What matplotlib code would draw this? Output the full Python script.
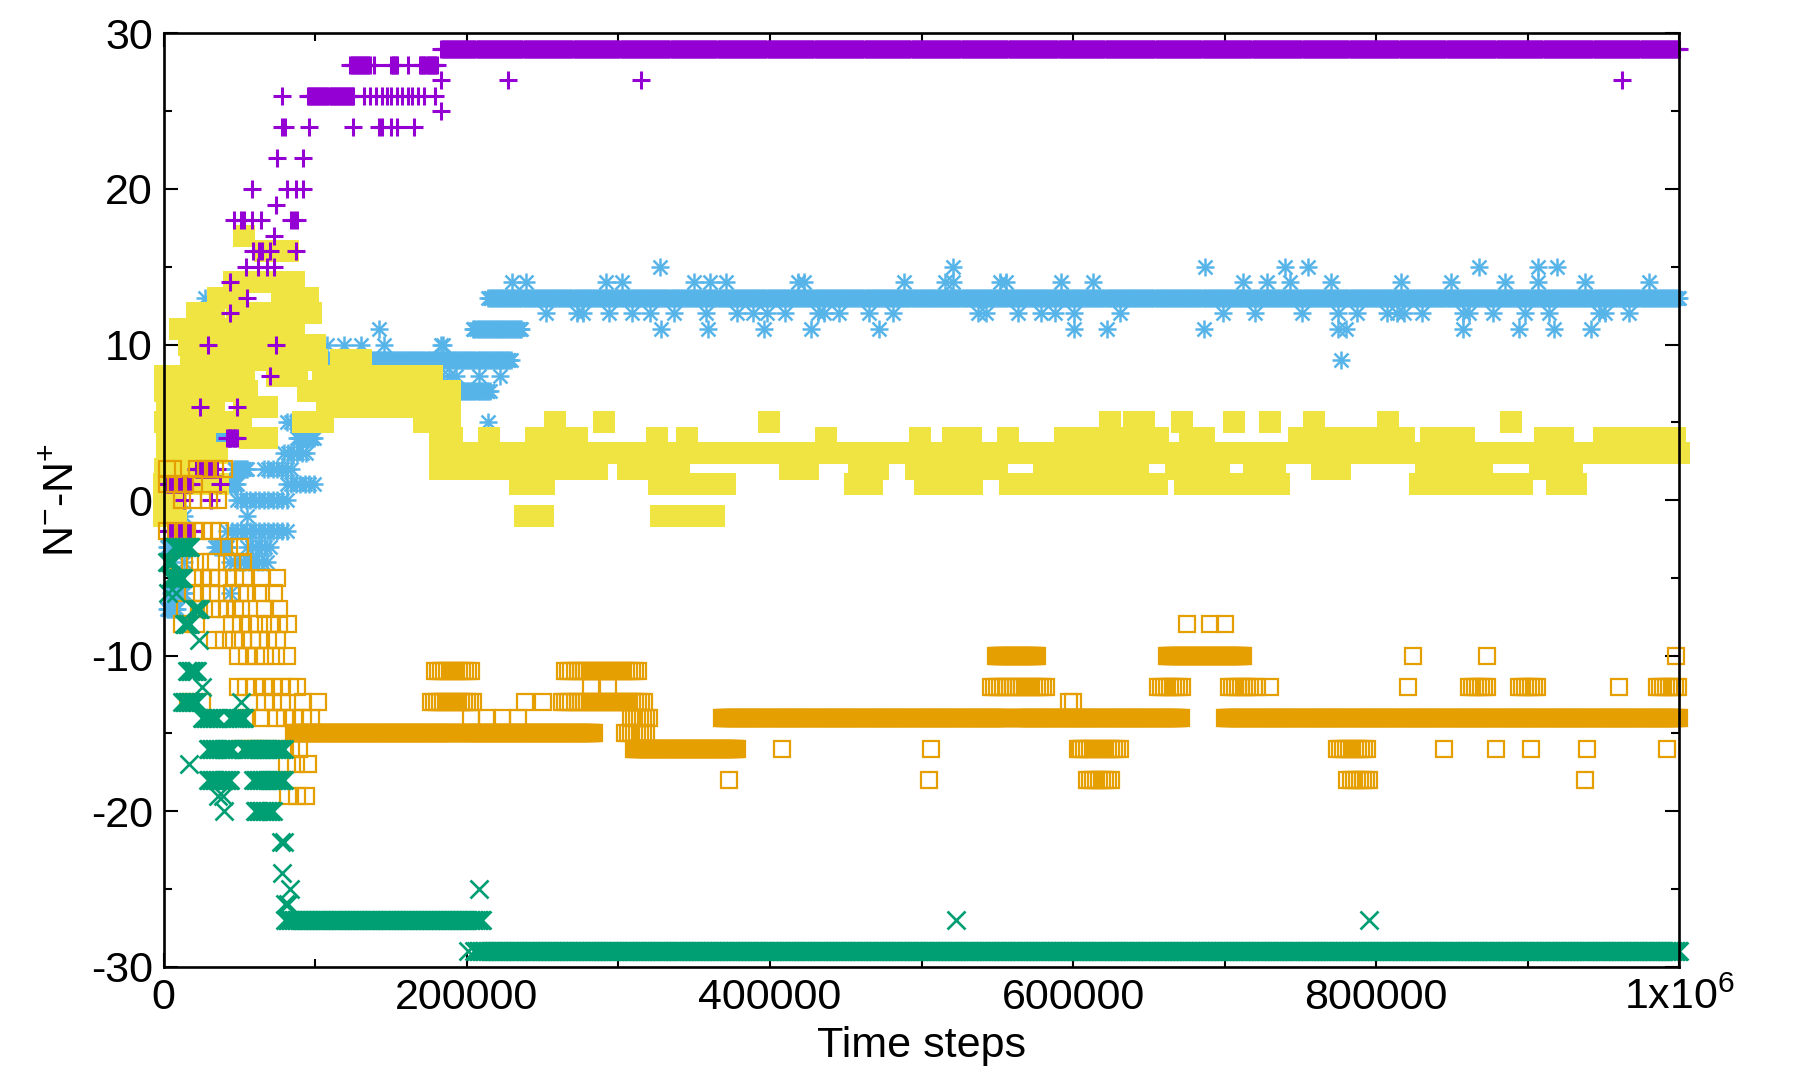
import numpy as np
import matplotlib
matplotlib.use("Agg")
import matplotlib.pyplot as plt
from matplotlib.ticker import MultipleLocator, FixedLocator, FixedFormatter

plt.rcParams['font.family'] = ['Liberation Sans', 'DejaVu Sans']
plt.rcParams['mathtext.fontset'] = 'custom'
plt.rcParams['mathtext.rm'] = 'Liberation Sans'
plt.rcParams['mathtext.it'] = 'Liberation Sans'
plt.rcParams['axes.unicode_minus'] = False

# sampling interval of the recorded time series (steps)
SAMPLE = 1000

# each series: runs of constant value (x_start, x_end, value[, step]) + single points (x, value)
# a larger step marks stretches where the value flickers between levels
purple_runs = [
    (3000, 20000, -2), (2000, 18000, 1), (21000, 35000, 2), (42000, 48000, 4),
    (95000, 125000, 26), (123000, 136000, 28), (150000, 154000, 28),
    (169000, 180000, 28), (183000, 1000000, 29),
]
purple_pts = [
    (13000, 0), (31000, 0), (37000, 1), (24000, 6), (48000, 6), (70000, 8),
    (29000, 10), (74000, 10), (44000, 12), (55000, 13), (44000, 14),
    (54000, 15), (62000, 15), (68000, 15), (73000, 15),
    (59000, 16), (63000, 16), (65000, 16), (70000, 16), (87000, 16), (73000, 17),
    (46000, 18), (51000, 18), (53000, 18), (58000, 18), (64000, 18),
    (84000, 18), (86000, 18), (88000, 18), (74000, 19),
    (58000, 20), (81000, 20), (87000, 20), (92000, 20), (75000, 22), (92000, 22),
    (78000, 24), (80000, 24), (96000, 24), (125000, 24), (142000, 24), (144000, 24),
    (150000, 24), (154000, 24), (165000, 24), (183000, 25),
    (78000, 26), (132000, 26), (136000, 26), (140000, 26), (144000, 26),
    (147000, 26), (150000, 26), (154000, 26), (157000, 26), (161000, 26),
    (164000, 26), (168000, 26), (172000, 26), (179000, 26),
    (139000, 28), (161000, 28), (183000, 27), (227000, 27), (315000, 27), (962000, 27),
]

green_runs = [
    (6600, 17600, -3), (2000, 6600, -4), (4400, 13000, -5), (20000, 24000, -7),
    (13000, 17600, -8), (15000, 22000, -11), (12000, 22000, -13),
    (25000, 35000, -14), (44000, 53000, -14), (29000, 45000, -16),
    (52000, 79000, -16), (29000, 44000, -18), (59000, 79000, -18),
    (60000, 72000, -20), (80000, 210000, -27), (205000, 1000000, -29),
]
green_pts = [
    (23000, -9), (25000, -12), (51000, -13), (16500, -17), (36000, -19),
    (39000, -19), (40000, -20), (79000, -22), (77000, -22), (78000, -24),
    (80000, -26), (82000, -26), (83000, -25), (208000, -25), (201000, -29),
    (523000, -27), (795000, -27), (3000, -6), (8000, -6),
]

blue_runs = [
    (2000, 9000, -7), (5000, 13000, -6), (2000, 8000, -3), (34000, 42000, -3),
    (55000, 70000, -3, 3000), (44000, 70000, -4, 3000), (42000, 81000, -2, 3000),
    (48000, 83000, 0, 3000),
    (39000, 48000, 1), (81000, 99000, 1, 3000), (46000, 55000, 2), (66000, 85000, 2, 3000),
    (79000, 94000, 3, 3000), (33000, 44000, 4), (88000, 99000, 4), (18000, 26000, 5),
    (81000, 96000, 5, 3000), (104000, 229000, 9), (196000, 215000, 7),
    (204000, 236000, 11), (214000, 1000000, 13),
]
blue_pts = [
    (11000, 0), (13000, -1), (55000, -1), (13000, -4), (44000, -6), (7000, 3),
    (21000, 8), (40000, 8), (27000, 13), (34000, 11),
    (108000, 10), (119000, 10), (130000, 10), (145000, 10), (183000, 10), (184000, 10),
    (142000, 11), (178000, 8), (183000, 8), (188000, 8), (193000, 8), (208000, 8),
    (221600, 8), (214000, 5), (777000, 9),
    (229600, 14), (239000, 14), (291600, 14), (302400, 14), (349600, 14),
    (360400, 14), (371200, 14), (418300, 14), (422400, 14), (488400, 14),
    (515400, 14), (520800, 14), (551800, 14), (555800, 14), (592200, 14),
    (613000, 14), (712000, 14), (728000, 14), (743000, 14), (770000, 14),
    (816000, 14), (849000, 14), (885000, 14), (907000, 14), (938000, 14), (980000, 14),
    (327200, 15), (520800, 15), (687000, 15), (740000, 15), (755000, 15),
    (868000, 15), (907000, 15), (919000, 15),
    (252000, 12), (272800, 12), (276800, 12), (293800, 12), (309200, 12),
    (320500, 12), (336700, 12), (357700, 12), (378400, 12), (388700, 12),
    (398100, 12), (410200, 12), (431800, 12), (435800, 12), (445300, 12),
    (465500, 12), (481100, 12), (536900, 12), (542300, 12), (563900, 12),
    (578700, 12), (588100, 12), (600300, 12), (631000, 12), (699000, 12),
    (720000, 12), (751000, 12), (775000, 12), (787000, 12), (807000, 12),
    (814000, 12), (818000, 12), (830000, 12), (857000, 12), (861000, 12),
    (877000, 12), (898000, 12), (914000, 12), (947000, 12), (951000, 12), (967000, 12),
    (328000, 11), (359000, 11), (396000, 11), (427000, 11), (471700, 11),
    (600300, 11), (622000, 11), (686000, 11), (775000, 11), (780000, 11),
    (857000, 11), (894000, 11), (917000, 11), (942000, 11),
]

yellow_runs = [
    (0, 8800, 0), (0, 8800, -1), (0, 11000, 1), (23000, 36000, 1), (1000, 18700, 2),
    (2000, 35000, 3), (2000, 27500, 4), (57000, 68000, 4), (1000, 51000, 5),
    (92000, 105000, 5), (2000, 33000, 6), (53000, 68000, 6), (1000, 55000, 7),
    (1000, 13000, 8), (26000, 53000, 8), (75000, 88000, 8), (105000, 145000, 8),
    (150000, 161000, 8), (165000, 177000, 8), (18000, 51000, 9), (63000, 77000, 9),
    (90000, 101000, 9), (117000, 130000, 9), (16500, 29000, 10), (41000, 100000, 10),
    (11000, 35000, 11), (45000, 86000, 11), (22000, 33000, 12), (48000, 97000, 12),
    (36000, 48000, 13), (78000, 95000, 13), (46000, 58000, 14), (66000, 86000, 14),
    (67000, 82000, 16), (95000, 189000, 7), (108000, 189000, 6), (172000, 189000, 5),
    (182000, 1000000, 3),
    # value 2
    (182000, 196000, 2), (207000, 239000, 2), (243000, 259000, 2), (263000, 286000, 2),
    (306000, 317000, 2), (329000, 340000, 2), (413000, 425000, 2), (459000, 471000, 2),
    (496000, 515000, 2), (523000, 534000, 2), (539000, 550000, 2), (581000, 592000, 2),
    (598000, 607000, 2), (615000, 627000, 2), (629000, 643000, 2), (668000, 681000, 2),
    (684000, 696000, 2), (719000, 733000, 2), (764000, 776000, 2), (833000, 846000, 2),
    (858000, 870000, 2), (908000, 929000, 2),
    # value 1
    (235000, 251000, 1), (327000, 370000, 1), (456000, 467000, 1), (502000, 519000, 1),
    (521000, 533000, 1), (558000, 569000, 1), (577000, 588000, 1), (593000, 604000, 1),
    (609000, 629000, 1), (641000, 655000, 1), (674000, 687000, 1), (700000, 736000, 1),
    (829000, 842000, 1), (845000, 857000, 1), (864000, 877000, 1), (883000, 896000, 1),
    (919000, 932000, 1),
    # value -1
    (238000, 250000, -1), (328000, 363000, -1),
    # value 4
    (182000, 188000, 4), (245800, 258000, 4), (520800, 532900, 4), (598000, 622000, 4),
    (628000, 656000, 4), (677000, 686000, 4), (749000, 767000, 4), (771000, 793000, 4),
    (806000, 818000, 4), (836000, 858000, 4), (911000, 923000, 4), (950000, 961000, 4),
    (975000, 997000, 4),
    (182000, 188000, 5),
]
yellow_pts = [
    (53000, 17), (182000, 7), (182000, 6),
    (190000, 4), (214800, 4), (272800, 4), (325300, 4), (345500, 4), (437200, 4),
    (499200, 4), (557100, 4), (594800, 4),
    (258000, 5), (290300, 5), (399500, 5), (624000, 5), (640000, 5), (647000, 5),
    (672000, 5), (706000, 5), (730000, 5), (759000, 5), (808000, 5), (889000, 5),
]

orange_runs = [
    (179000, 203000, -11, 2000), (265000, 313000, -11, 2000), (176000, 205000, -13, 2000),
    (263000, 317000, -13, 2000), (546000, 583000, -12, 2000), (549000, 576000, -10),
    (308000, 321000, -14, 2000), (368000, 557000, -14), (562000, 671000, -14),
    (700000, 1000000, -14),
    (86000, 192000, -15), (195000, 284000, -15), (304000, 319000, -15, 2000),
    (310000, 378000, -16), (603000, 631000, -16, 2000), (774000, 795000, -16, 2000),
    (609000, 626000, -18, 2000), (781000, 796000, -18, 2000),
    (662000, 712000, -10), (656000, 672000, -12, 2000), (703000, 721000, -12, 2000),
    (861000, 874000, -12, 2000), (894000, 907000, -12, 2000), (985000, 1000000, -12, 2000),
]
orange_pts = [
    (2000, 2), (6000, 2), (22000, 2), (28000, 2), (34000, 2), (40000, 2),
    (2000, 1), (8000, 1), (14000, 1), (20000, 1),
    (12000, 0), (19000, 0), (30000, 0), (36000, 0),
    (2000, -2), (8000, -2), (14000, -2), (20000, -2), (26000, -2), (32000, -2), (37000, -2),
    (43000, -3), (50000, -3),
    (10000, -4), (17000, -4), (24000, -4), (31000, -4), (45000, -4), (52000, -4),
    (19000, -5), (26000, -5), (31000, -5), (36000, -5), (42000, -5), (47000, -5),
    (53000, -5), (65000, -5), (75000, -5),
    (19000, -6), (25000, -6), (31000, -6), (45000, -6), (50000, -6), (55000, -6),
    (64000, -6), (73000, -6),
    (14000, -7), (23000, -7), (32000, -7), (37000, -7), (42000, -7), (47000, -7),
    (51000, -7), (67000, -7), (76000, -7),
    (12000, -8), (21000, -8), (45000, -8), (51000, -8), (57000, -8), (63000, -8),
    (70000, -8), (76000, -8), (82000, -8),
    (34000, -9), (40000, -9), (46000, -9), (52000, -9), (58000, -9), (63000, -9),
    (69000, -9), (75000, -9),
    (49000, -10), (55000, -10), (61000, -10), (67000, -10), (74000, -10), (81000, -10),
    (49000, -12), (54000, -12), (60000, -12), (66000, -12), (72000, -12), (78000, -12),
    (83000, -12), (88000, -12),
    (16000, -13), (25000, -13), (67000, -13), (72000, -13), (78000, -13), (92000, -13),
    (102000, -13),
    (55000, -14), (64000, -14), (74000, -14), (80000, -14), (86000, -14), (92000, -14),
    (97000, -14),
    (51000, -16), (57000, -16), (63000, -16), (69000, -16), (80000, -16), (84000, -16),
    (89000, -16),
    (81000, -17), (87000, -17), (95000, -17), (82000, -19), (88000, -19), (94000, -19),
    (238000, -13), (250000, -13), (597000, -13), (600000, -13),
    (282000, -12), (293000, -12),
    (203000, -14), (213000, -14), (223000, -14), (234000, -14),
    (408000, -16), (506000, -16), (604000, -16), (845000, -16), (879000, -16),
    (902000, -16), (939000, -16), (992000, -16),
    (373000, -18), (505000, -18), (938000, -18),
    (824000, -10), (873000, -10), (998000, -10),
    (675000, -8), (690000, -8), (700000, -8),
    (730000, -12), (821000, -12), (960000, -12),
]


def expand(runs, pts):
    xs, ys = [], []
    for run in runs:
        x0, x1, y = run[:3]
        step = run[3] if len(run) > 3 else SAMPLE
        r = np.arange(x0, x1 + 1, step)
        xs.extend(r)
        ys.extend([y] * len(r))
    for x, y in pts:
        xs.append(x)
        ys.append(y)
    return np.array(xs), np.array(ys)


fig = plt.figure(figsize=(18, 10.8), dpi=100)
ax = fig.add_axes([0.091, 0.105, 0.842, 0.864])

bx, by = expand(blue_runs, blue_pts)
ax.plot(bx, by, ls='none', marker='+', ms=13, mew=1.8, color='#56b4e9', clip_on=False)
ax.plot(bx, by, ls='none', marker='x', ms=10.5, mew=1.8, color='#56b4e9', clip_on=False)

yx, yy = expand(yellow_runs, yellow_pts)
ax.plot(yx, yy, ls='none', marker='s', ms=16.5, mew=0, color='#f0e442', clip_on=False)

px, py = expand(purple_runs, purple_pts)
ax.plot(px, py, ls='none', marker='+', ms=13.5, mew=2.2, color='#9400d3', clip_on=False)

ox, oy = expand(orange_runs, orange_pts)
ax.plot(ox, oy, ls='none', marker='s', ms=12, mew=1.6, mfc='none', color='#e69f00',
        clip_on=False)

gx, gy = expand(green_runs, green_pts)
ax.plot(gx, gy, ls='none', marker='x', ms=12.5, mew=1.9, color='#009e73', clip_on=False)

ax.set_xlim(0, 1000000)
ax.set_ylim(-30, 30)

xt = [0, 200000, 400000, 600000, 800000, 1000000]
ax.xaxis.set_major_locator(FixedLocator(xt))
ax.xaxis.set_major_formatter(FixedFormatter(['0', '200000', '400000', '600000', '800000',
                                             '1x10$^{6}$']))
ax.xaxis.set_minor_locator(MultipleLocator(100000))
ax.yaxis.set_major_locator(MultipleLocator(10))
ax.yaxis.set_minor_locator(MultipleLocator(5))
ax.tick_params(which='both', direction='in', top=True, right=True, labelsize=31, width=1.5)
ax.tick_params(which='major', length=10, pad=8)
ax.tick_params(which='minor', length=6)
for s in ax.spines.values():
    s.set_linewidth(1.9)

ax.set_xlabel('Time steps', fontsize=31, labelpad=6)
ax.set_ylabel('N$^{-}$-N$^{+}$', fontsize=31, labelpad=6)

fig.savefig('out.png', dpi=100)
